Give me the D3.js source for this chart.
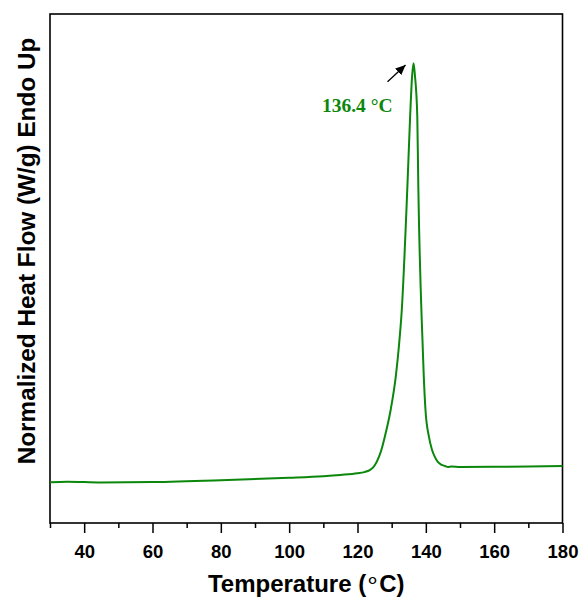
<!DOCTYPE html>
<html>
<head>
<meta charset="utf-8">
<script src="https://cdn.jsdelivr.net/npm/d3@7"></script>
<style>
  html, body { margin: 0; padding: 0; background: #fff; }
  svg { display: block; }
</style>
</head>
<body>
<div id="chart"></div>
<script>
// DSC trace
const temps = [30, 35, 45, 60, 80, 100, 110, 115, 120, 122, 123.6, 124.5, 125.1, 126.3, 127, 128,
  129.7, 131.2, 132.2, 132.9, 134.6, 135.4, 136, 136.4, 136.8, 137.5, 137.8, 138.8, 139.05, 139.4,
  139.9, 140.9, 141.8, 142.6, 143.5, 144.5, 145.6, 146.5, 147.5, 150, 160, 170, 180]
const heatFlow = [0.200, 0.203, 0.199, 0.201, 0.210, 0.222, 0.230, 0.236, 0.244, 0.250, 0.260, 0.272, 0.285, 0.326, 0.360, 0.424,
  0.555, 0.719, 0.883, 1.030, 1.652, 1.996, 2.200, 2.258, 2.200, 1.996, 1.652, 0.997, 0.883, 0.719,
  0.555, 0.424, 0.360, 0.326, 0.300, 0.287, 0.280, 0.275, 0.277, 0.275, 0.276, 0.278, 0.280]
const majorTicks = [40, 60, 80, 100, 120, 140, 160, 180]
const minorTicks = [30, 50, 70, 90, 110, 130, 150, 170]
const peakTemp = 136.4
const peakLabel = "136.4 °C"

const width = 581
const height = 597
const margin = { top: 14, right: 18.5, bottom: 74, left: 50 }
const green = "#0b870b"
const sans = "Liberation Sans, Arial, sans-serif"

const svg = d3.select("#chart")
  .append("svg")
  .attr("width", width)
  .attr("height", height)

const x = d3.scaleLinear()
  .domain([30, 180])
  .range([margin.left, width - margin.right])

const y = d3.scaleLinear()
  .domain([0, 2.5])
  .range([height - margin.bottom, margin.top])

const plotBottom = height - margin.bottom

// x axis: major ticks labelled, minor ticks short
svg.append("g")
  .attr("transform", `translate(0,${plotBottom})`)
  .call(d3.axisBottom(x).tickValues(minorTicks).tickSize(5).tickFormat(""))
  .call(g => g.select(".domain").remove())
  .selectAll("line").attr("stroke", "#000").attr("stroke-width", 1.5)

const xAxis = svg.append("g")
  .attr("transform", `translate(0,${plotBottom})`)
  .call(d3.axisBottom(x).tickValues(majorTicks).tickSize(10).tickPadding(12))

xAxis.select(".domain").remove()
xAxis.selectAll("line").attr("stroke", "#000").attr("stroke-width", 1.5)
xAxis.selectAll("text")
  .attr("fill", "#000")
  .style("font-family", sans)
  .style("font-weight", "bold")
  .style("font-size", "18.5px")

// frame
svg.append("rect")
  .attr("x", x(30))
  .attr("y", margin.top)
  .attr("width", x(180) - x(30))
  .attr("height", plotBottom - margin.top)
  .attr("fill", "none")
  .attr("stroke", "#000")
  .attr("stroke-width", 1.6)

// curve
const line = d3.line()
  .x((d, i) => x(temps[i]))
  .y(d => y(d))
  .curve(d3.curveMonotoneX)

svg.append("path")
  .datum(heatFlow)
  .attr("d", line)
  .attr("fill", "none")
  .attr("stroke", green)
  .attr("stroke-width", 2)

// peak annotation
const peakY = y(d3.max(heatFlow))
svg.append("defs").append("marker")
  .attr("id", "arrow")
  .attr("viewBox", "0 0 10 10")
  .attr("refX", 10)
  .attr("refY", 5)
  .attr("markerWidth", 10)
  .attr("markerHeight", 10)
  .attr("markerUnits", "userSpaceOnUse")
  .attr("orient", "auto")
  .append("path")
  .attr("d", "M0,0.5 L10,5 L0,9.5 Z")
  .attr("fill", "#000")

svg.append("line")
  .attr("x1", x(peakTemp) - 26)
  .attr("y1", peakY + 18.5)
  .attr("x2", x(peakTemp) - 8)
  .attr("y2", peakY + 1.8)
  .attr("stroke", "#000")
  .attr("stroke-width", 1.3)
  .attr("marker-end", "url(#arrow)")

svg.append("text")
  .attr("x", x(peakTemp) - 21)
  .attr("y", peakY + 48.5)
  .attr("text-anchor", "end")
  .attr("fill", green)
  .style("font-family", "Liberation Serif, Times New Roman, serif")
  .style("font-weight", "bold")
  .style("font-size", "19.5px")
  .text(peakLabel)

// axis titles
const xTitle = svg.append("text")
  .attr("x", (x(30) + x(180)) / 2)
  .attr("y", 592)
  .attr("text-anchor", "middle")
  .attr("fill", "#000")
  .style("font-family", sans)
  .style("font-weight", "bold")
  .style("font-size", "24px")

xTitle.append("tspan").text("Temperature (")
xTitle.append("tspan").attr("dy", -4).attr("dx", -1).style("font-weight", "normal").text("\u2218")
xTitle.append("tspan").attr("dy", 4).attr("dx", -1).text("C)")

svg.append("text")
  .attr("transform", "rotate(-90)")
  .attr("x", -251)
  .attr("y", 35)
  .attr("text-anchor", "middle")
  .attr("fill", "#000")
  .style("font-family", sans)
  .style("font-weight", "bold")
  .style("font-size", "24.3px")
  .text("Normalized Heat Flow (W/g) Endo Up")
</script>
</body>
</html>
